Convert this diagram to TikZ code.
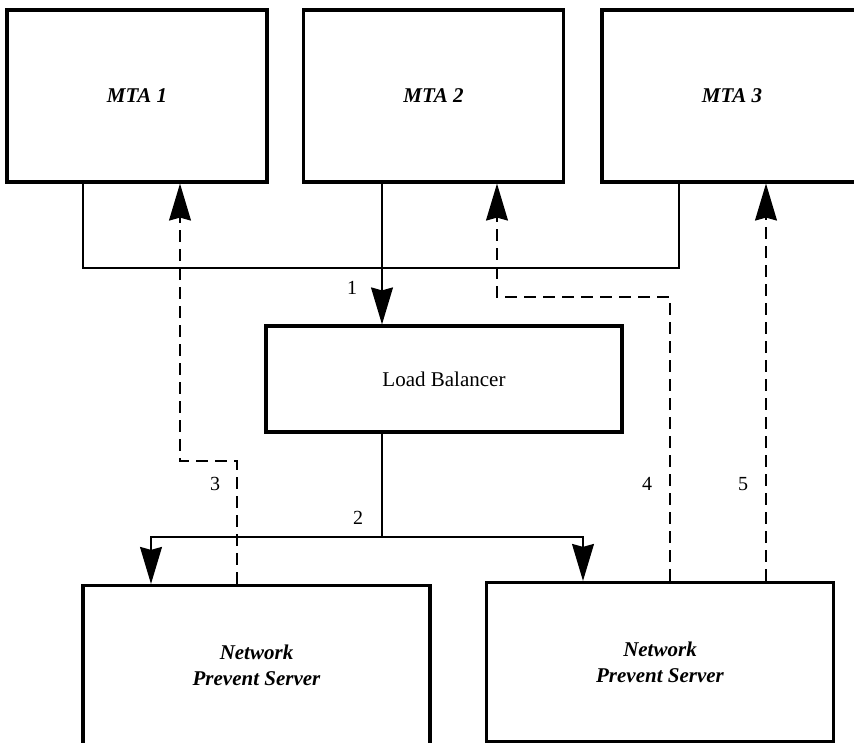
\documentclass[tikz,border=0pt]{standalone}
\usepackage{fontspec}
\setmainfont{Liberation Serif}
\usetikzlibrary{positioning,arrows.meta,calc}

\begin{document}
\begin{tikzpicture}[x=1pt,y=1pt,
box/.style={draw,shape=rectangle,line width=3.2pt,inner sep=0pt,align=center,font=\fontsize{21}{26}\selectfont},
mta/.style={box,minimum width=260pt,minimum height=172pt,font=\fontsize{21}{26}\selectfont\bfseries\itshape},
server/.style={box,minimum width=347pt,minimum height=159pt,font=\fontsize{21}{26}\selectfont\bfseries\itshape},
wire/.style={line width=1.3pt},
reply/.style={wire,dash pattern=on 12pt off 7pt},
arrowed/.style={-{Stealth[length=37pt,width=22pt,inset=3pt]}},
lbl/.style={font=\fontsize{20}{24}\selectfont}]
\useasboundingbox (0,0) rectangle (854,743);

\node[mta] (mta1) at (137,647) {MTA 1};
\node[mta] (mta2) at (433.5,647) {MTA 2};
\node[mta] (mta3) at (732,647) {MTA 3};
\node[box,minimum width=356pt,minimum height=106pt] (lb) at (444,364) {Load Balancer};
\node[server] (nps1) at (256.5,78) {Network\\Prevent Server};
\node[server] (nps2) at (660,81) {Network\\Prevent Server};

% MTAs to the balancer
\coordinate (j1) at (83,475);
\coordinate (j2) at (382,475);
\coordinate (j3) at (679,475);
\draw[wire] (mta1.south -| j1) -- (j1) -- (j3) -- (mta3.south -| j3);
\draw[wire,arrowed] (mta2.south -| j2) -- (lb.north -| j2);
\node[lbl] (n1) at (352,455) {1};

% balancer to the servers
\coordinate (k0) at (382,206);
\coordinate (k1) at (151,206);
\coordinate (k2) at (583,206);
\draw[wire] (lb.south -| k0) -- (k0);
\draw[wire,arrowed] (k0) -- (k1) -- (nps1.north -| k1);
\draw[wire,arrowed] (k0) -- (k2) -- (nps2.north -| k2);
\node[lbl] (n2) at (358,225) {2};

% servers back to the MTAs
\coordinate (r3a) at (237,282);
\coordinate (r3b) at (180,282);
\draw[reply,arrowed] (nps1.north -| r3a) -- (r3a) -- (r3b) -- (mta1.south -| r3b);
\node[lbl] (n3) at (215,259) {3};
\coordinate (r4a) at (670,446);
\coordinate (r4b) at (497,446);
\draw[reply,arrowed] (nps2.north -| r4a) -- (r4a) -- (r4b) -- (mta2.south -| r4b);
\node[lbl] (n4) at (647,259) {4};
\coordinate (r5) at (766,0);
\draw[reply,arrowed] (nps2.north -| r5) -- (mta3.south -| r5);
\node[lbl] (n5) at (743,259) {5};
\end{tikzpicture}
\end{document}
